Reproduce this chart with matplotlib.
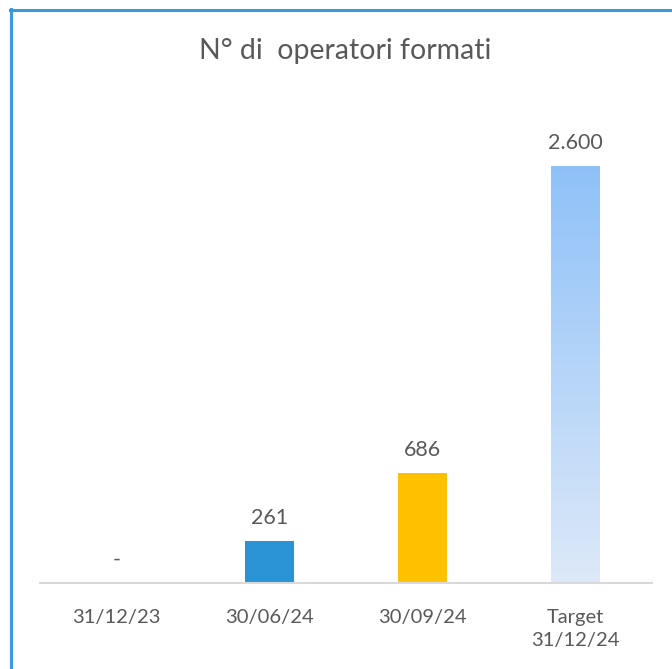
import numpy as np
import matplotlib
matplotlib.use("Agg")
import matplotlib.pyplot as plt
from matplotlib.lines import Line2D
from matplotlib.colors import LinearSegmentedColormap

categories = ["31/12/23", "30/06/24", "30/09/24", "Target\n31/12/24"]
values = [0, 261, 686, 2600]
labels = ["-", "261", "686", "2.600"]
colors = ["#2a93d5", "#2a93d5", "#ffc000", None]
title = "N° di  operatori formati"

plt.rcParams['font.family'] = ['Lato', 'DejaVu Sans']
W, H = 672, 669
fig = plt.figure(figsize=(W / 100, H / 100), dpi=100)

def fx(px):
    return px / W

def fy(py):
    return 1 - py / H

ymax = 3000
base_px = 583
top_px = base_px - ymax * 417 / 2600
ax = fig.add_axes([fx(40), fy(base_px), fx(652) - fx(40), (base_px - top_px) / H])
ax.set_xlim(-0.5, 3.5)
ax.set_ylim(0, ymax)

bw = 0.315
x = np.arange(len(categories))
for i, (v, c) in enumerate(zip(values, colors)):
    if c is not None:
        ax.bar(x[i], v, width=bw, color=c, zorder=2)
    else:
        bars = ax.bar(x[i], v, width=bw, color="none", zorder=2)
        cmap = LinearSegmentedColormap.from_list("g", ["#dde9f9", "#8fc1f8"])
        grad = np.linspace(0, 1, 256).reshape(-1, 1)
        im = ax.imshow(grad, cmap=cmap, aspect="auto", origin="lower",
                       extent=[x[i] - bw / 2, x[i] + bw / 2, 0, v], zorder=2)
        im.set_clip_path(bars[0])

for i, (v, lab) in enumerate(zip(values, labels)):
    ax.annotate(lab, (x[i], v), xytext=(0, 9.5), textcoords="offset points",
                ha="center", va="bottom", fontsize=15.5, color="#595959")

ax.set_xticks(x)
ax.set_xticklabels(categories, fontsize=14.5, color="#595959", linespacing=1.4)
ax.tick_params(axis="x", length=0, pad=19)
ax.set_yticks([])
for s in ["left", "right", "top"]:
    ax.spines[s].set_visible(False)
ax.spines["bottom"].set_color("#d9d9d9")
ax.spines["bottom"].set_linewidth(1.5)
ax.spines["bottom"].set_zorder(3)

fig.text(fx(345), fy(51), title, ha="center", va="center", fontsize=20.5, color="#595959")

# outer frame (partially cut off)
fig.add_artist(Line2D([fx(11), fx(11)], [fy(9), fy(H + 5)], color="#3a9ad9", lw=2.2,
                      transform=fig.transFigure))
fig.add_artist(Line2D([fx(10), fx(W + 5)], [fy(9.5), fy(9.5)], color="#3a9ad9", lw=2.2,
                      transform=fig.transFigure))

fig.savefig("out.png", dpi=100)
